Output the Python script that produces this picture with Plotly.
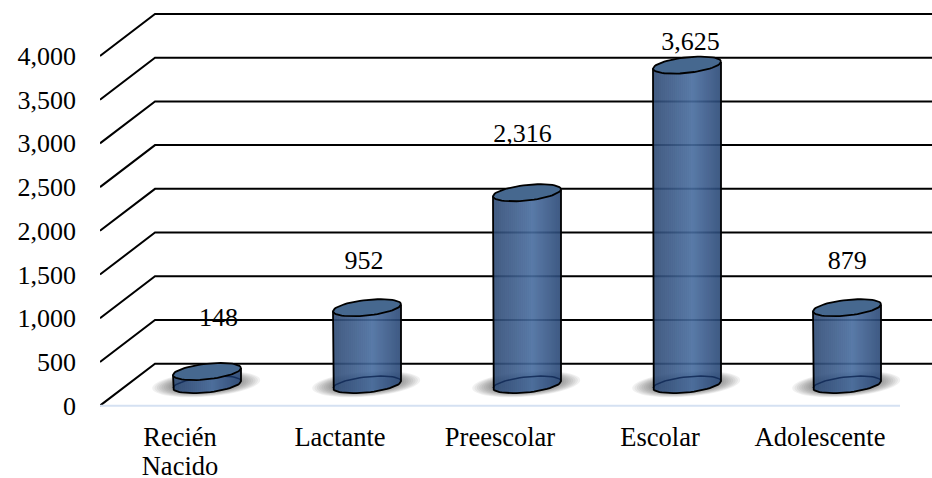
import numpy as np
import plotly.graph_objects as go

categories = ["Recién<br>Nacido", "Lactante", "Preescolar", "Escolar", "Adolescente"]
bar_heights = [150, 880, 2195, 3655, 880]      # heights
bar_labels = ["148", "952", "2,316", "3,625", "879"]  # values as printed
label_heights = [983, 1634, 3086, 4137, 1634]
label_slots = [0.74, 1.65, 2.64, 3.69, 4.67]
y_ticks = [0, 500, 1000, 1500, 2000, 2500, 3000, 3500, 4000]

PX_Y = 0.0875          # px per value unit
PX_X = 160.0           # px per category
DEPTH_X = 55 / PX_X
DEPTH_Y = 42 / PX_Y
BAR_SHIFT = 27 / PX_X
BASE = 21 / PX_Y
A = 34 / PX_X
B = 7.8 / PX_Y
SHEAR = 3.5 / PX_Y
XMAX = 832 / PX_X
FONT = "Liberation Serif"
FS = 26


def ellipse(cx, cy, a, b, s, t):
    return cx + a * np.cos(t), cy + b * np.sin(t) + s * np.cos(t)


def add_break(xs, ys, x, y):
    xs.extend(list(x) + [None])
    ys.extend(list(y) + [None])


fig = go.Figure()

# perspective grid
gx, gy = [], []
for v in y_ticks:
    add_break(gx, gy, [0, DEPTH_X, XMAX], [v, v + DEPTH_Y, v + DEPTH_Y])
fig.add_trace(go.Scatter(x=gx, y=gy, mode="lines", line=dict(color="#000000", width=2),
                         hoverinfo="skip", showlegend=False))
# floor line
fig.add_trace(go.Scatter(x=[0, 5], y=[0, 0], mode="lines", line=dict(color="#d5e1f2", width=2),
                         hoverinfo="skip", showlegend=False))

centers = [i + 0.5 + BAR_SHIFT for i in range(len(categories))]

# soft shadows
T = np.linspace(0, 2 * np.pi, 61)
for k in range(14):
    f = 1 - k / 14 * 0.6
    sx, sy = [], []
    for c in centers:
        x, y = ellipse(c - 0.005, BASE + 6, 54 / PX_X * f, 12.5 / PX_Y * f, 4 / PX_Y * f, T)
        add_break(sx, sy, x, y)
    fig.add_trace(go.Scatter(x=sx, y=sy, mode="none", fill="toself",
                             fillcolor="rgba(60,60,60,0.07)", hoverinfo="skip", showlegend=False))


def lerp(t):
    stops = [(0.0, (46, 74, 116)), (0.58, (72, 108, 158)), (1.0, (42, 72, 118))]
    for (t0, c0), (t1, c1) in zip(stops, stops[1:]):
        if t <= t1:
            w = (t - t0) / (t1 - t0)
            return tuple(int(round(c0[i] + w * (c1[i] - c0[i]))) for i in range(3))
    return stops[-1][1]


# cylinder bodies as thin vertical slices
N = 34
sl_x, sl_y, sl_b, sl_w, sl_c = [], [], [], [], []
for c, h in zip(centers, bar_heights):
    for j in range(N):
        u = -1 + (2 * j + 1) / N
        bottom = BASE + SHEAR * u - B * np.sqrt(1 - u * u)
        top = BASE + h + SHEAR * u
        r, g, b_ = lerp((u + 1) / 2)
        sl_x.append(c + A * u)
        sl_y.append(top - bottom)
        sl_b.append(bottom)
        sl_w.append(2 * A / N + 0.0005)
        sl_c.append(f"rgba({r},{g},{b_},0.9)")
fig.add_trace(go.Bar(x=sl_x, y=sl_y, base=sl_b, width=sl_w, marker=dict(color=sl_c, line=dict(width=0)),
                     xaxis="x2", yaxis="y2", hoverinfo="skip", showlegend=False))

# outlines
T_up = np.linspace(0, np.pi, 31)
T_low = np.linspace(np.pi, 2 * np.pi, 31)
ux, uy, ox, oy, tx, ty = [], [], [], [], [], []
for c, h in zip(centers, bar_heights):
    x, y = ellipse(c, BASE, A, B, SHEAR, T_up)
    add_break(ux, uy, x, y)
    x, y = ellipse(c, BASE, A, B, SHEAR, T_low)
    add_break(ox, oy, [c - A] + list(x) + [c + A], [BASE + h - SHEAR] + list(y) + [BASE + h + SHEAR])
    x, y = ellipse(c, BASE + h, A, B, SHEAR, T)
    add_break(tx, ty, x, y)
fig.add_trace(go.Scatter(x=ux, y=uy, mode="lines", line=dict(color="rgba(15,40,85,0.85)", width=1.5),
                         xaxis="x2", yaxis="y2", hoverinfo="skip", showlegend=False))
fig.add_trace(go.Scatter(x=ox, y=oy, mode="lines", line=dict(color="#000000", width=1.8),
                         xaxis="x2", yaxis="y2", hoverinfo="skip", showlegend=False))
fig.add_trace(go.Scatter(x=tx, y=ty, mode="lines", fill="toself", fillcolor="#46688f",
                         line=dict(color="#000000", width=1.8),
                         xaxis="x2", yaxis="y2", hoverinfo="skip", showlegend=False))
# data labels
fig.add_trace(go.Scatter(x=label_slots, y=label_heights, text=bar_labels, mode="text",
                         textposition="middle center", textfont=dict(family=FONT, size=FS, color="#000000"),
                         xaxis="x2", yaxis="y2", cliponaxis=False, hoverinfo="skip", showlegend=False))

ymin = -50
ymax = 406 / PX_Y
plot_h = ymax - ymin
axis_common = dict(showgrid=False, zeroline=False, showline=False, automargin=False)
fig.update_layout(
    width=932, height=478, autosize=False,
    paper_bgcolor="#ffffff", plot_bgcolor="rgba(0,0,0,0)",
    margin=dict(l=100, r=0, t=0, b=478 - plot_h * PX_Y, pad=0),
    barmode="overlay", showlegend=False,
    xaxis=dict(range=[0, XMAX], tickmode="array", tickvals=[i + 0.5 for i in range(5)], ticktext=categories,
               ticks="", ticklabelstandoff=8, tickfont=dict(family=FONT, size=26.5, color="#000000"),
               tickangle=0, **axis_common),
    yaxis=dict(range=[ymin, ymax], tickmode="array", tickvals=y_ticks, ticktext=[f"{v:,}" for v in y_ticks],
               ticks="", ticklabelstandoff=23, tickfont=dict(family=FONT, size=FS, color="#000000"),
               **axis_common),
    xaxis2=dict(overlaying="x", matches="x", visible=False),
    yaxis2=dict(overlaying="y", matches="y", visible=False),
)
post = """
document.body.style.margin='0';
document.documentElement.style.overflow='hidden';
document.querySelectorAll('.xtick text tspan.line').forEach(function(t){
  if (t.getAttribute('dy') && parseFloat(t.getAttribute('dy')) > 0) t.setAttribute('dy', '1.13em');
});
"""
fig.write_html("out.html", config=dict(displayModeBar=False), post_script=post)
